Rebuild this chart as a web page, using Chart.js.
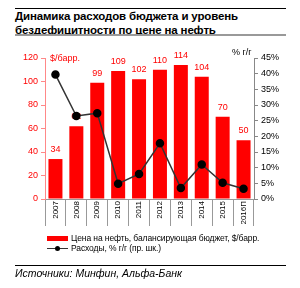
<!DOCTYPE html>
<html>
<head>
<meta charset="utf-8">
<script src="https://cdn.jsdelivr.net/npm/chart.js@4"></script>
<style>
  body { margin: 0; background: #fff; font-family: "Liberation Sans", Arial, sans-serif; }
  #wrap { position: relative; width: 300px; height: 288px; overflow: hidden; }
  canvas { position: absolute; left: 0; top: 0; }
  .rule { position: absolute; left: 15px; width: 271px; }
  .title { position: absolute; left: 15px; top: 9px; font-size: 11.5px; font-weight: bold; line-height: 14px; color: #000; letter-spacing: -0.15px; }
  .unit { position: absolute; font-size: 9px; }
  .leg { position: absolute; left: 47px; font-size: 8.5px; color: #000; letter-spacing: -0.1px; }
  .src { position: absolute; left: 15px; top: 267px; font-size: 10.5px; font-style: italic; color: #000; }
</style>
</head>
<body>
<div id="wrap">
  <div class="rule" style="top:8px;height:1px;background:#000"></div>
  <div class="title">Динамика расходов бюджета и уровень<br>бездефицитности по цене на нефть</div>
  <div class="rule" style="top:34px;height:2px;background:#999"></div>
  <canvas id="c" width="300" height="288"></canvas>
  <div class="unit" style="left:50px;top:53px;color:#f00">$/барр.</div>
  <div class="unit" style="left:232px;top:47px;color:#000">% г/г</div>
  <div class="leg" style="top:233px"><span style="display:inline-block;width:21px;height:5px;background:#f00;vertical-align:middle;margin-right:3px"></span>Цена на нефть, балансирующая бюджет, $/барр.</div>
  <div class="leg" style="top:243px"><span style="display:inline-block;width:21px;height:1px;background:#333;vertical-align:middle;margin-right:3px;position:relative"><span style="position:absolute;left:8px;top:-2px;width:5px;height:5px;border-radius:50%;background:#000"></span></span>Расходы, % г/г (пр. шк.)</div>
  <div class="rule" style="top:265px;height:1px;background:#000"></div>
  <div class="src">Источники: Минфин, Альфа-Банк</div>
</div>
<script>
const years = ['2007', '2008', '2009', '2010', '2011', '2012', '2013', '2014', '2015', '2016П'];
const oilPrice = [34, 62, 99, 109, 102, 110, 114, 104, 70, 50];
const spending = [39.7, 26.5, 27.4, 4.9, 8.0, 17.8, 3.5, 11.0, 5.2, 3.3];
const leftTicks = [0, 20, 40, 60, 80, 100, 120];
const rightTicks = [0, 5, 10, 15, 20, 25, 30, 35, 40, 45];

// red value labels above the bars (drawn before the line so the line covers them)
const barLabels = {
  id: 'barLabels',
  afterDatasetDraw(chart, args) {
    if (args.meta.type !== 'bar') return;
    const ctx = chart.ctx;
    ctx.save();
    ctx.fillStyle = '#f00';
    ctx.font = '9px "Liberation Sans", Arial';
    ctx.textAlign = 'center';
    ctx.textBaseline = 'bottom';
    args.meta.data.forEach((bar, i) => {
      ctx.fillText(oilPrice[i], bar.x, bar.y - 5);
    });
    ctx.restore();
  }
};

new Chart(document.getElementById('c'), {
  data: {
    labels: years,
    datasets: [
      {
        type: 'line',
        data: spending,
        yAxisID: 'y1',
        borderColor: '#333',
        borderWidth: 1.5,
        pointBackgroundColor: '#000',
        pointBorderColor: '#000',
        pointRadius: 3.5,
        order: 1
      },
      {
        type: 'bar',
        data: oilPrice,
        yAxisID: 'y',
        backgroundColor: '#f00',
        categoryPercentage: 1,
        barPercentage: 0.67,
        order: 2
      }
    ]
  },
  options: {
    responsive: false,
    animation: false,
    layout: { padding: { top: 58, bottom: 59, left: 0, right: 0 } },
    plugins: { legend: { display: false }, tooltip: { enabled: false } },
    scales: {
      x: {
        offset: true,
        afterFit: s => { s.height = 30; },
        grid: { offset: true, drawOnChartArea: false, tickLength: 27, color: '#999' },
        border: { color: '#999' },
        ticks: { minRotation: 90, maxRotation: 90, color: '#000', font: { size: 8, family: '"Liberation Sans", Arial' }, padding: -25 }
      },
      y: {
        position: 'left',
        min: 0, max: 120,
        afterFit: s => { s.width = 45; },
        afterBuildTicks: s => { s.ticks = leftTicks.map(v => ({ value: v })); },
        grid: { drawOnChartArea: false, tickLength: 4, color: '#f88' },
        border: { color: '#f88' },
        ticks: { color: '#f00', font: { size: 9, family: '"Liberation Sans", Arial' }, padding: 3 }
      },
      y1: {
        position: 'right',
        min: 0, max: 45,
        afterFit: s => { s.width = 46; },
        afterBuildTicks: s => { s.ticks = rightTicks.map(v => ({ value: v })); },
        grid: { drawOnChartArea: false, tickLength: 4, color: '#888' },
        border: { color: '#888' },
        ticks: { color: '#000', font: { size: 9, family: '"Liberation Sans", Arial' }, padding: 3, callback: v => v + '%' }
      }
    }
  },
  plugins: [barLabels]
});
</script>
</body>
</html>
